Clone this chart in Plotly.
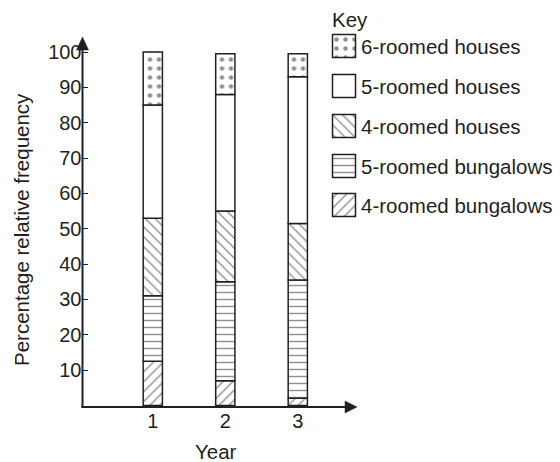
import plotly.graph_objects as go

years = [1, 2, 3]
year_labels = ["1", "2", "3"]
series_names = ["4-roomed bungalows", "5-roomed bungalows", "4-roomed houses",
                "5-roomed houses", "6-roomed houses"]
bungalows_4 = [12.5, 7.0, 2.0]
bungalows_5 = [18.5, 28.0, 33.5]
houses_4 = [22.0, 20.0, 16.0]
houses_5 = [32.0, 33.0, 41.5]
houses_6 = [15.0, 11.5, 6.5]
y_ticks = [10, 20, 30, 40, 50, 60, 70, 80, 90, 100]

series_values = [bungalows_4, bungalows_5, houses_4, houses_5, houses_6]
patterns = ["/", "-", "\\", "", "."]

INK = "#231f20"
FONT = "Liberation Sans, Arial, Helvetica, sans-serif"
FS = 20
FS_BIG = 20.5
W, H = 560, 462
OFF = 8  # page body margin

# plot-area geometry in screen pixels
PX0, PX1 = 82.5, 357.0
PY_BOTTOM, PY_TOP = 407.0, 37.0


def pat(shape):
    if shape == ".":
        return dict(shape=".", fgcolor=INK, bgcolor="white", size=9,
                    solidity=0.2, fillmode="overlay")
    return dict(shape=shape, fgcolor=INK, bgcolor="white", size=7,
                solidity=0.2, fillmode="overlay")


fig = go.Figure()

bases = [0.0, 0.0, 0.0]
for name, vals, p in zip(series_names, series_values, patterns):
    fig.add_trace(go.Bar(
        x=years, y=vals, base=list(bases), name=name, width=0.265,
        marker=dict(color="white", line=dict(color=INK, width=1.5), pattern=pat(p)),
        showlegend=False, xaxis="x", yaxis="y"))
    bases = [b + v for b, v in zip(bases, vals)]

# Key (legend) drawn on a pixel overlay axis
key_order = list(reversed(series_names))
key_patterns = list(reversed(patterns))
key_centers = [46, 86, 126, 166, 205]
SW = 23
for name, p, cy in zip(key_order, key_patterns, key_centers):
    fig.add_trace(go.Bar(
        x=[332.5 + SW / 2], y=[SW], base=[cy - SW / 2], width=SW,
        marker=dict(color="white", line=dict(color=INK, width=1.5), pattern=pat(p)),
        showlegend=False, hoverinfo="skip", xaxis="x2", yaxis="y2"))
    fig.add_annotation(x=359, y=cy, xref="x2", yref="y2", text=name,
                       showarrow=False, xanchor="left", yanchor="middle",
                       font=dict(size=FS_BIG, color=INK, family=FONT))

fig.add_annotation(x=330, y=19, xref="x2", yref="y2", text="Key",
                   showarrow=False, xanchor="left", yanchor="middle",
                   font=dict(size=FS_BIG, color=INK, family=FONT))

# axis titles
fig.add_annotation(x=216, y=451, xref="x2", yref="y2", text="Year",
                   showarrow=False, xanchor="center", yanchor="middle",
                   font=dict(size=FS_BIG, color=INK, family=FONT))
fig.add_annotation(x=21, y=230, xref="x2", yref="y2",
                   text="Percentage relative frequency", textangle=-90,
                   showarrow=False, xanchor="center", yanchor="middle",
                   font=dict(size=FS_BIG, color=INK, family=FONT))

# axis lines with arrowheads
shapes = [
    dict(type="line", x0=PX0, x1=PX0, y0=PY_BOTTOM + 1, y1=48, xref="x2", yref="y2",
         line=dict(color=INK, width=2)),
    dict(type="line", x0=PX0 - 1, x1=346, y0=PY_BOTTOM, y1=PY_BOTTOM, xref="x2", yref="y2",
         line=dict(color=INK, width=2)),
    dict(type="path", path=f"M {PX0-6},50 L {PX0+6},50 L {PX0},{PY_TOP} Z",
         xref="x2", yref="y2", fillcolor=INK, line=dict(color=INK, width=0.5)),
    dict(type="path", path=f"M 345,{PY_BOTTOM-6} L 345,{PY_BOTTOM+6} L {PX1},{PY_BOTTOM} Z",
         xref="x2", yref="y2", fillcolor=INK, line=dict(color=INK, width=0.5)),
]

px_per_unit_y = (370 - 52) / 90.0
y_lo = -(PY_BOTTOM - 405.4) / px_per_unit_y
y_hi = y_lo + (PY_BOTTOM - PY_TOP) / px_per_unit_y
px_per_unit_x = 72.5
x_lo = 1 - (152.8 - PX0) / px_per_unit_x
x_hi = x_lo + (PX1 - PX0) / px_per_unit_x

fig.update_layout(
    width=W, height=H, margin=dict(l=0, r=0, t=0, b=0),
    paper_bgcolor="white", plot_bgcolor="rgba(0,0,0,0)",
    barmode="overlay", shapes=shapes,
    font=dict(family=FONT, size=FS, color=INK),
    xaxis=dict(domain=[(PX0 - OFF) / W, (PX1 - OFF) / W], range=[x_lo, x_hi],
               tickvals=years, ticktext=year_labels, ticks="",
               showline=False, showgrid=False, zeroline=False,
               tickfont=dict(size=FS, color=INK, family=FONT), anchor="y"),
    yaxis=dict(domain=[1 - (PY_BOTTOM - OFF) / H, 1 - (PY_TOP - OFF) / H],
               range=[y_lo, y_hi],
               tickvals=y_ticks, ticks="inside", ticklen=5, tickwidth=1,
               tickcolor=INK, showline=False, showgrid=False, zeroline=False,
               tickfont=dict(size=FS, color=INK, family=FONT), anchor="x"),
    xaxis2=dict(domain=[0, 1], range=[OFF, W + OFF], visible=False, anchor="y2"),
    yaxis2=dict(domain=[0, 1], range=[H + OFF, OFF], visible=False, anchor="x2"),
)

fig.write_html("out.html")
